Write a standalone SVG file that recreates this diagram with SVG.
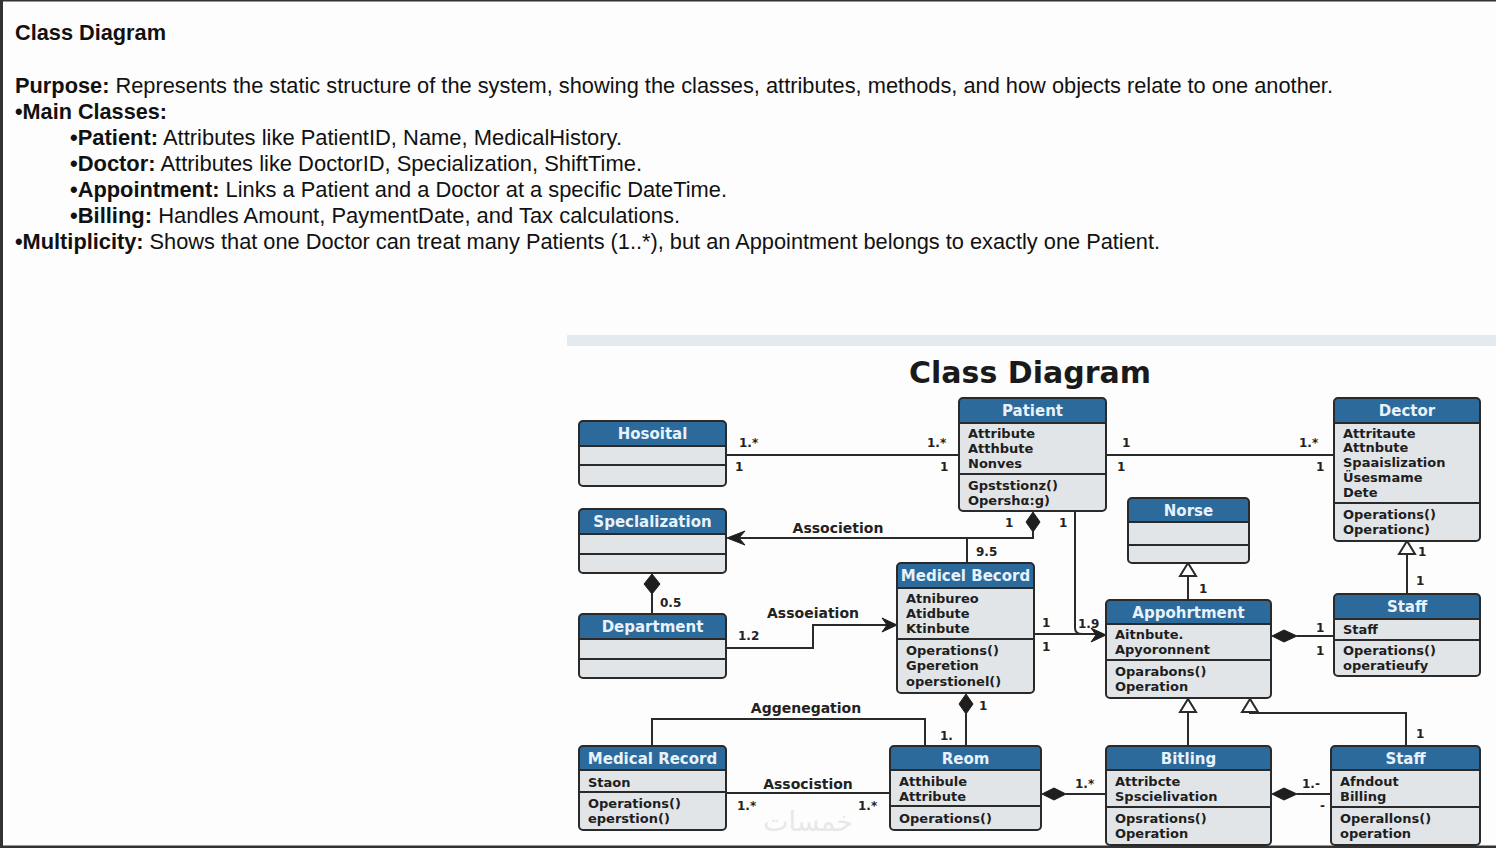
<svg xmlns="http://www.w3.org/2000/svg" width="1496" height="848" viewBox="0 0 1496 848">
<style>
.pg{font-family:"Liberation Sans",Arial,sans-serif;font-size:21.5px;fill:#111}
.b{font-weight:bold}
.body{fill:#e2e5e8}
.hdr{fill:#2c6a9b}
.out{fill:none;stroke:#2a2a2a;stroke-width:2}
.div{stroke:#2a2a2a;stroke-width:2}
.ht{font-family:"DejaVu Sans",Verdana,sans-serif;font-weight:bold;font-size:15px;fill:#e8f2fb;text-anchor:middle}
.at{font-family:"DejaVu Sans",Verdana,sans-serif;font-weight:bold;font-size:13px;fill:#1e1e1e}
.ln{fill:none;stroke:#2a2a2a;stroke-width:2}
.lb{font-family:"DejaVu Sans",Verdana,sans-serif;font-weight:bold;font-size:12px;fill:#222}
.al{font-family:"DejaVu Sans",Verdana,sans-serif;font-weight:bold;font-size:14px;fill:#222;text-anchor:middle}
.fd{fill:#1e1e1e;stroke:#1e1e1e;stroke-width:1}
.ot{fill:#fff;stroke:#2a2a2a;stroke-width:2}
</style>
<rect x="0" y="0" width="1496" height="848" fill="#fdfdfd"/>
<rect x="0" y="0" width="1496" height="1.5" fill="#333"/>
<rect x="0" y="0" width="3" height="848" fill="#333"/>
<rect x="0" y="845.5" width="1496" height="2.5" fill="#333"/>

<g id="page-text" class="pg">
<text x="15" y="40" class="b" textLength="151" lengthAdjust="spacingAndGlyphs">Class Diagram</text>
<text x="15" y="93" textLength="1318" lengthAdjust="spacingAndGlyphs"><tspan class="b">Purpose:</tspan> Represents the static structure of the system, showing the classes, attributes, methods, and how objects relate to one another.</text>
<text x="15" y="119" class="b" textLength="152" lengthAdjust="spacingAndGlyphs">•Main Classes:</text>
<text x="70" y="145" textLength="552" lengthAdjust="spacingAndGlyphs"><tspan class="b">•Patient:</tspan> Attributes like PatientID, Name, MedicalHistory.</text>
<text x="70" y="171" textLength="572" lengthAdjust="spacingAndGlyphs"><tspan class="b">•Doctor:</tspan> Attributes like DoctorID, Specialization, ShiftTime.</text>
<text x="70" y="197" textLength="657" lengthAdjust="spacingAndGlyphs"><tspan class="b">•Appointment:</tspan> Links a Patient and a Doctor at a specific DateTime.</text>
<text x="70" y="223" textLength="610" lengthAdjust="spacingAndGlyphs"><tspan class="b">•Billing:</tspan> Handles Amount, PaymentDate, and Tax calculations.</text>
<text x="15" y="249" textLength="1145" lengthAdjust="spacingAndGlyphs"><tspan class="b">•Multiplicity:</tspan> Shows that one Doctor can treat many Patients (1..*), but an Appointment belongs to exactly one Patient.</text>
</g>

<rect x="567" y="335" width="929" height="11" fill="#e5eaee"/>
<text x="1030" y="383" font-family="DejaVu Sans,Verdana,sans-serif" font-weight="bold" font-size="30" fill="#1a1a1a" text-anchor="middle">Class Diagram</text>
<text x="808" y="831" font-family="DejaVu Sans,sans-serif" font-size="27" fill="#e8e8e8" text-anchor="middle">خمسات</text>

<g id="connectors">
<path class="ln" d="M726,455 H959"/>
<path class="ln" d="M1106,455 H1334"/>
<path class="ln" d="M1033,532 V538 H740"/>
<path class="ln" d="M967,538 V563"/>
<path class="ln" d="M1075,511 V628 Q1075,634 1082,634 H1100"/>
<path class="ln" d="M1034,634 H1100"/>
<path class="ln" d="M726,648 H813 V625 H893"/>
<path class="ln" d="M652,594 V614"/>
<path class="ln" d="M652,746 V719 H925 V746"/>
<path class="ln" d="M966,714 V746"/>
<path class="ln" d="M726,793 H890"/>
<path class="ln" d="M1066,794 H1106"/>
<path class="ln" d="M1297,794 H1331"/>
<path class="ln" d="M1297,636 H1334"/>
<path class="ln" d="M1188,576 V600"/>
<path class="ln" d="M1407,554 V594"/>
<path class="ln" d="M1188,712 V746"/>
<path class="ln" d="M1250,712 V713 H1406 V746"/>
<path class="fd" d="M727,538 L745,531 L739,538 L745,545 Z"/>
<path class="fd" d="M897,625 L882,618 L887,625 L882,632 Z"/>
<path class="fd" d="M1106,635 L1091,628 L1096,635 L1091,642 Z"/>
<path class="ot" d="M1188,563 L1180,576 L1196,576 Z"/>
<path class="ot" d="M1407,541 L1399,554 L1415,554 Z"/>
<path class="ot" d="M1188,699 L1180,712 L1196,712 Z"/>
<path class="ot" d="M1250,699 L1242,712 L1258,712 Z"/>
<path class="fd" d="M1033,512 L1040,522 L1033,532 L1026,522 Z"/>
<path class="fd" d="M652,574 L660,584 L652,594 L644,584 Z"/>
<path class="fd" d="M966,694 L973,704 L966,714 L959,704 Z"/>
<path class="fd" d="M1042,794 L1054,788 L1066,794 L1054,800 Z"/>
<path class="fd" d="M1272,794 L1284,788 L1297,794 L1284,800 Z"/>
<path class="fd" d="M1272,636 L1284,630 L1297,636 L1284,642 Z"/>
<text class="lb" x="739" y="447">1.*</text>
<text class="lb" x="735" y="471">1</text>
<text class="lb" x="927" y="447">1.*</text>
<text class="lb" x="940" y="471">1</text>
<text class="lb" x="1122" y="447">1</text>
<text class="lb" x="1117" y="471">1</text>
<text class="lb" x="1299" y="447">1.*</text>
<text class="lb" x="1316" y="471">1</text>
<text class="al" x="838" y="533">Associetion</text>
<text class="lb" x="1005" y="527">1</text>
<text class="lb" x="1059" y="527">1</text>
<text class="lb" x="976" y="556">9.5</text>
<text class="lb" x="660" y="607">0.5</text>
<text class="al" x="813" y="618">Assoeiation</text>
<text class="lb" x="738" y="640">1.2</text>
<text class="lb" x="1042" y="627">1</text>
<text class="lb" x="1042" y="651">1</text>
<text class="lb" x="1078" y="628">1.9</text>
<text class="lb" x="1199" y="593">1</text>
<text class="lb" x="1418" y="556">1</text>
<text class="lb" x="1416" y="585">1</text>
<text class="lb" x="1316" y="632">1</text>
<text class="lb" x="1316" y="655">1</text>
<text class="al" x="806" y="713">Aggenegation</text>
<text class="lb" x="940" y="740">1.</text>
<text class="lb" x="979" y="710">1</text>
<text class="al" x="808" y="789">Associstion</text>
<text class="lb" x="737" y="810">1.*</text>
<text class="lb" x="858" y="810">1.*</text>
<text class="lb" x="1075" y="788">1.*</text>
<text class="lb" x="1302" y="788">1.-</text>
<text class="lb" x="1320" y="810">-</text>
<text class="lb" x="1416" y="738">1</text>
</g>

<g id="hospital">
<rect class="body" x="579" y="421" width="147" height="65" rx="4"/>
<path class="hdr" d="M583,421 H722 Q726,421 726,425 V446 H579 V425 Q579,421 583,421 Z"/>
<line class="div" x1="579" y1="446" x2="726" y2="446"/>
<line class="div" x1="579" y1="465" x2="726" y2="465"/>
<rect class="out" x="579" y="421" width="147" height="65" rx="4"/>
<text class="ht" x="652.5" y="439">Hosoital</text>
</g>

<g id="specialization">
<rect class="body" x="579" y="509" width="147" height="64" rx="4"/>
<path class="hdr" d="M583,509 H722 Q726,509 726,513 V534 H579 V513 Q579,509 583,509 Z"/>
<line class="div" x1="579" y1="534" x2="726" y2="534"/>
<line class="div" x1="579" y1="554" x2="726" y2="554"/>
<rect class="out" x="579" y="509" width="147" height="64" rx="4"/>
<text class="ht" x="652.5" y="527">Speclalization</text>
</g>

<g id="department">
<rect class="body" x="579" y="614" width="147" height="64" rx="4"/>
<path class="hdr" d="M583,614 H722 Q726,614 726,618 V639 H579 V618 Q579,614 583,614 Z"/>
<line class="div" x1="579" y1="639" x2="726" y2="639"/>
<line class="div" x1="579" y1="659" x2="726" y2="659"/>
<rect class="out" x="579" y="614" width="147" height="64" rx="4"/>
<text class="ht" x="652.5" y="632">Department</text>
</g>

<g id="medical-record">
<rect class="body" x="579" y="746" width="147" height="84" rx="4"/>
<path class="hdr" d="M583,746 H722 Q726,746 726,750 V770 H579 V750 Q579,746 583,746 Z"/>
<line class="div" x1="579" y1="770" x2="726" y2="770"/>
<line class="div" x1="579" y1="792" x2="726" y2="792"/>
<rect class="out" x="579" y="746" width="147" height="84" rx="4"/>
<text class="ht" x="652.5" y="764">Medical Record</text>
<text class="at" x="588" y="787">Staon</text>
<text class="at" x="588" y="808">Operations()</text>
<text class="at" x="588" y="823">eperstion()</text>
</g>

<g id="patient">
<rect class="body" x="959" y="398" width="147" height="113" rx="4"/>
<path class="hdr" d="M963,398 H1102 Q1106,398 1106,402 V423 H959 V402 Q959,398 963,398 Z"/>
<line class="div" x1="959" y1="423" x2="1106" y2="423"/>
<line class="div" x1="959" y1="474" x2="1106" y2="474"/>
<rect class="out" x="959" y="398" width="147" height="113" rx="4"/>
<text class="ht" x="1032.5" y="416">Patient</text>
<text class="at" x="968" y="438">Attribute</text>
<text class="at" x="968" y="453">Atthbute</text>
<text class="at" x="968" y="468">Nonves</text>
<text class="at" x="968" y="490">Gpststionz()</text>
<text class="at" x="968" y="505">Opershα:g)</text>
</g>

<g id="doctor">
<rect class="body" x="1334" y="398" width="146" height="143" rx="4"/>
<path class="hdr" d="M1338,398 H1476 Q1480,398 1480,402 V423 H1334 V402 Q1334,398 1338,398 Z"/>
<line class="div" x1="1334" y1="423" x2="1480" y2="423"/>
<line class="div" x1="1334" y1="503" x2="1480" y2="503"/>
<rect class="out" x="1334" y="398" width="146" height="143" rx="4"/>
<text class="ht" x="1407" y="416">Dector</text>
<text class="at" x="1343" y="438">Attritaute</text>
<text class="at" x="1343" y="452">Attnbute</text>
<text class="at" x="1343" y="467">Spaaislization</text>
<text class="at" x="1343" y="482">Üsesmame</text>
<text class="at" x="1343" y="497">Dete</text>
<text class="at" x="1343" y="519">Operations()</text>
<text class="at" x="1343" y="534">Operationc)</text>
</g>

<g id="norse">
<rect class="body" x="1128" y="498" width="121" height="65" rx="4"/>
<path class="hdr" d="M1132,498 H1245 Q1249,498 1249,502 V522 H1128 V502 Q1128,498 1132,498 Z"/>
<line class="div" x1="1128" y1="522" x2="1249" y2="522"/>
<line class="div" x1="1128" y1="545" x2="1249" y2="545"/>
<rect class="out" x="1128" y="498" width="121" height="65" rx="4"/>
<text class="ht" x="1188.5" y="516">Norse</text>
</g>

<g id="medical-becord">
<rect class="body" x="897" y="563" width="137" height="130" rx="4"/>
<path class="hdr" d="M901,563 H1030 Q1034,563 1034,567 V588 H897 V567 Q897,563 901,563 Z"/>
<line class="div" x1="897" y1="588" x2="1034" y2="588"/>
<line class="div" x1="897" y1="639" x2="1034" y2="639"/>
<rect class="out" x="897" y="563" width="137" height="130" rx="4"/>
<text class="ht" x="965.5" y="581">Medicel Becord</text>
<text class="at" x="906" y="603">Atnibureo</text>
<text class="at" x="906" y="618">Atidbute</text>
<text class="at" x="906" y="633">Ktinbute</text>
<text class="at" x="906" y="655">Operations()</text>
<text class="at" x="906" y="670">Gperetion</text>
<text class="at" x="906" y="686">operstionel()</text>
</g>

<g id="appointment">
<rect class="body" x="1106" y="600" width="165" height="98" rx="4"/>
<path class="hdr" d="M1110,600 H1267 Q1271,600 1271,604 V624 H1106 V604 Q1106,600 1110,600 Z"/>
<line class="div" x1="1106" y1="624" x2="1271" y2="624"/>
<line class="div" x1="1106" y1="660" x2="1271" y2="660"/>
<rect class="out" x="1106" y="600" width="165" height="98" rx="4"/>
<text class="ht" x="1188.5" y="618">Appohrtment</text>
<text class="at" x="1115" y="639">Aitnbute.</text>
<text class="at" x="1115" y="654">Apyoronnent</text>
<text class="at" x="1115" y="676">Oparabons()</text>
<text class="at" x="1115" y="691">Operation</text>
</g>

<g id="staff-1">
<rect class="body" x="1334" y="594" width="146" height="82" rx="4"/>
<path class="hdr" d="M1338,594 H1476 Q1480,594 1480,598 V619 H1334 V598 Q1334,594 1338,594 Z"/>
<line class="div" x1="1334" y1="619" x2="1480" y2="619"/>
<line class="div" x1="1334" y1="640" x2="1480" y2="640"/>
<rect class="out" x="1334" y="594" width="146" height="82" rx="4"/>
<text class="ht" x="1407" y="612">Staff</text>
<text class="at" x="1343" y="634">Staff</text>
<text class="at" x="1343" y="655">Operations()</text>
<text class="at" x="1343" y="670">operatieufy</text>
</g>

<g id="room">
<rect class="body" x="890" y="746" width="151" height="84" rx="4"/>
<path class="hdr" d="M894,746 H1037 Q1041,746 1041,750 V770 H890 V750 Q890,746 894,746 Z"/>
<line class="div" x1="890" y1="770" x2="1041" y2="770"/>
<line class="div" x1="890" y1="806" x2="1041" y2="806"/>
<rect class="out" x="890" y="746" width="151" height="84" rx="4"/>
<text class="ht" x="965.5" y="764">Reom</text>
<text class="at" x="899" y="786">Atthibule</text>
<text class="at" x="899" y="801">Attribute</text>
<text class="at" x="899" y="823">Operations()</text>
</g>

<g id="billing">
<rect class="body" x="1106" y="746" width="165" height="99" rx="4"/>
<path class="hdr" d="M1110,746 H1267 Q1271,746 1271,750 V770 H1106 V750 Q1106,746 1110,746 Z"/>
<line class="div" x1="1106" y1="770" x2="1271" y2="770"/>
<line class="div" x1="1106" y1="807" x2="1271" y2="807"/>
<rect class="out" x="1106" y="746" width="165" height="99" rx="4"/>
<text class="ht" x="1188.5" y="764">Bitling</text>
<text class="at" x="1115" y="786">Attribcte</text>
<text class="at" x="1115" y="801">Spscielivation</text>
<text class="at" x="1115" y="823">Opsrations()</text>
<text class="at" x="1115" y="838">Operation</text>
</g>

<g id="staff-2">
<rect class="body" x="1331" y="746" width="149" height="99" rx="4"/>
<path class="hdr" d="M1335,746 H1476 Q1480,746 1480,750 V770 H1331 V750 Q1331,746 1335,746 Z"/>
<line class="div" x1="1331" y1="770" x2="1480" y2="770"/>
<line class="div" x1="1331" y1="807" x2="1480" y2="807"/>
<rect class="out" x="1331" y="746" width="149" height="99" rx="4"/>
<text class="ht" x="1405.5" y="764">Staff</text>
<text class="at" x="1340" y="786">Afndout</text>
<text class="at" x="1340" y="801">Billing</text>
<text class="at" x="1340" y="823">Operallons()</text>
<text class="at" x="1340" y="838">operation</text>
</g>
</svg>
